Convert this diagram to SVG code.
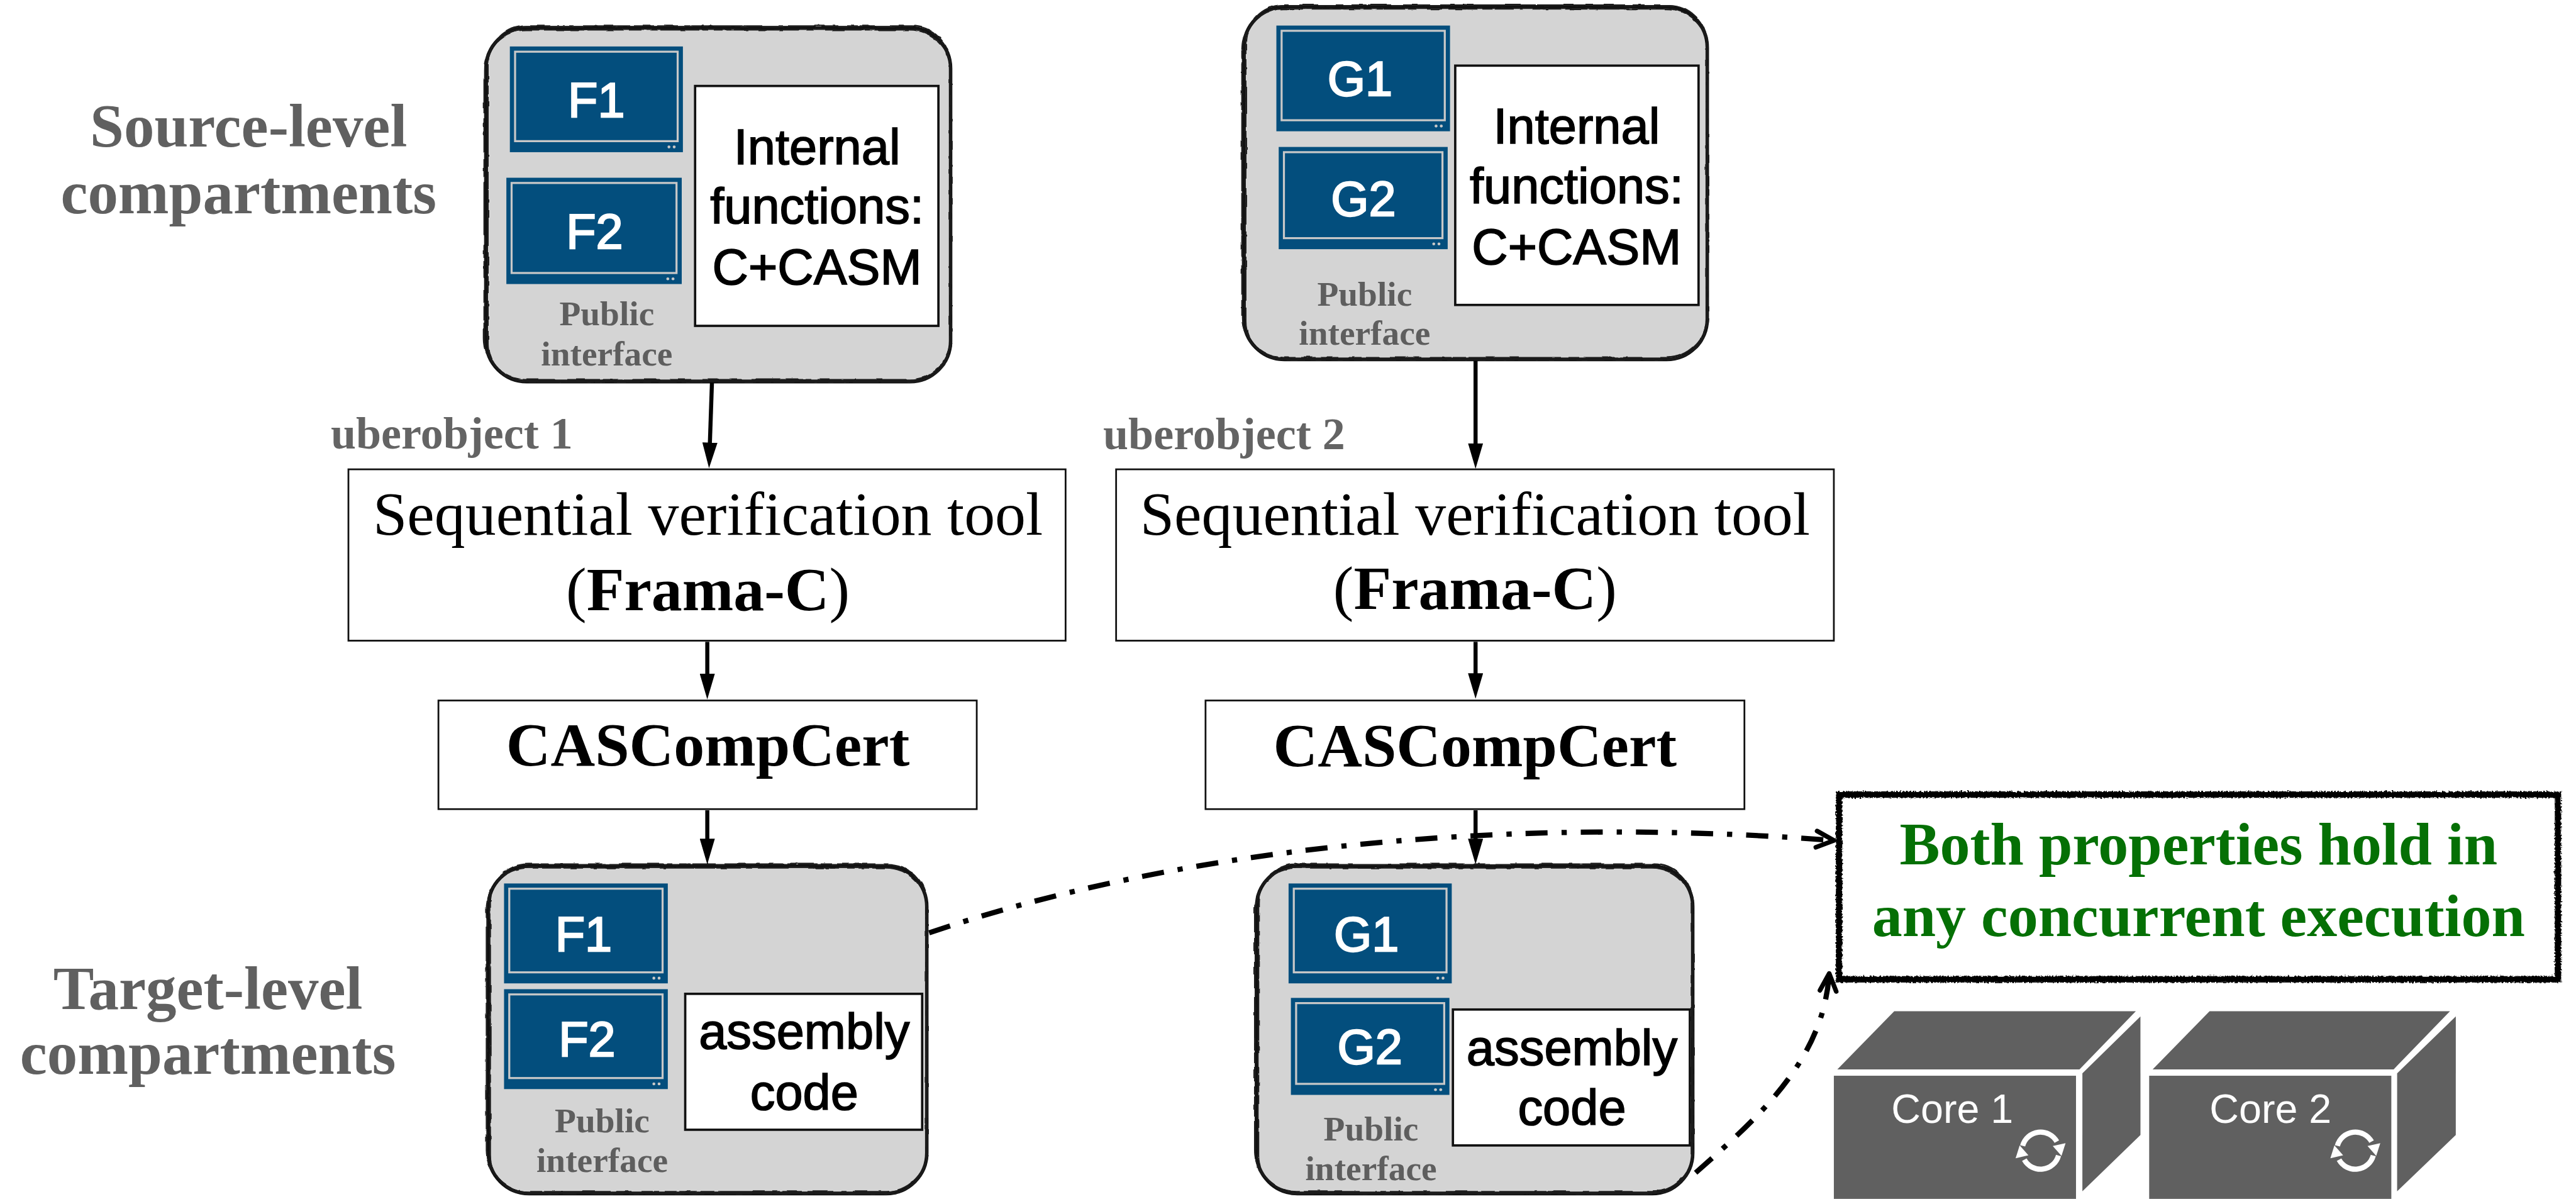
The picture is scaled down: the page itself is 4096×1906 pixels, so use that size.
<svg xmlns="http://www.w3.org/2000/svg" width="4096" height="1906" viewBox="0 0 4096 1906">
<defs>
<style>
.side{font-family:"Liberation Serif","Times New Roman",serif;font-weight:bold;fill:#606060;font-size:105px;text-anchor:middle}
.uber{font-family:"Liberation Serif","Times New Roman",serif;font-weight:bold;fill:#646464;font-size:78px;text-anchor:middle}
.pub{font-family:"Liberation Serif","Times New Roman",serif;font-weight:bold;fill:#5e5e5e;font-size:60px;text-anchor:middle}
.comp{fill:#d4d4d4;stroke:#111;stroke-width:6}
.sk{fill:none;stroke:#1a1a1a;stroke-width:3}
.scr{fill:#034e7d}
.scrin{fill:none;stroke:#c8c8c8;stroke-width:3.5}
.dot{fill:#c8c8c8}
.scrtxt{font-family:"Liberation Sans",Arial,sans-serif;font-size:84px;fill:#fff;stroke:#fff;stroke-width:2.5;text-anchor:middle}
.wbox{fill:#fff;stroke:#111;stroke-width:4}
.btxt{font-family:"Liberation Sans",Arial,sans-serif;font-size:86px;fill:#000;stroke:#000;stroke-width:1.8;text-anchor:middle}
.tool{fill:#fff;stroke:#111;stroke-width:3}
.tooltxt{font-family:"Liberation Serif","Times New Roman",serif;font-size:106px;fill:#000;text-anchor:middle}
.b{font-weight:bold}
.flow{stroke:#000;stroke-width:7;fill:none;marker-end:url(#tri)}
.dd{fill:none;stroke:#000;stroke-width:9;stroke-dasharray:38 24 9 24;marker-end:url(#chev)}
.core{fill:#606060}
.coretxt{font-family:"Liberation Sans",Arial,sans-serif;font-size:70px;fill:#fff;text-anchor:middle}
.goal{font-family:"Liberation Serif","Times New Roman",serif;font-weight:bold;fill:#057005;font-size:104px;text-anchor:middle}
.sync{fill:none;stroke:#fff;stroke-width:9}
</style>
<marker id="tri" markerUnits="userSpaceOnUse" viewBox="0 0 44 26" markerWidth="44" markerHeight="26" refX="14" refY="13" orient="auto">
<path d="M0,0 L44,13 L0,26 Z" fill="#000"/>
</marker>
<marker id="chev" markerUnits="userSpaceOnUse" viewBox="-40 -24 50 48" markerWidth="50" markerHeight="48" refX="0" refY="0" orient="auto">
<path d="M-30,-14 L0,0 L-30,14" fill="none" stroke="#000" stroke-width="8" stroke-linecap="round" stroke-linejoin="round"/>
</marker>
<filter id="rough" x="-5%" y="-5%" width="110%" height="110%">
<feTurbulence type="fractalNoise" baseFrequency="0.05" numOctaves="2" seed="3"/>
<feDisplacementMap in="SourceGraphic" scale="5" xChannelSelector="R" yChannelSelector="G"/>
</filter>
<filter id="grain" x="-5%" y="-10%" width="110%" height="120%">
<feTurbulence type="fractalNoise" baseFrequency="0.35" numOctaves="1" seed="7"/>
<feDisplacementMap in="SourceGraphic" scale="7" xChannelSelector="R" yChannelSelector="G"/>
</filter>
<g id="syncicon">
<path class="sync" d="M30.9,8.3 A32,32 0 0 1 -28,15.5"/>
<path d="M-43,13 L-21,8 L-36,-9 Z" fill="#fff"/>
<path class="sync" d="M-30.9,-8.3 A32,32 0 0 1 28,-15.5"/>
<path d="M43,-13 L21,-8 L36,9 Z" fill="#fff"/>
</g>
</defs>
<rect width="4096" height="1906" fill="#fff"/>
<g transform="scale(0.92335)">

<!-- side labels -->
<g id="labels">
<text class="side"><tspan x="428" y="252">Source-level</tspan><tspan x="428" y="367">compartments</tspan></text>
<text class="side"><tspan x="358" y="1737">Target-level</tspan><tspan x="358" y="1849">compartments</tspan></text>
<text class="uber" x="778" y="772">uberobject 1</text>
<text class="uber" x="2108" y="773">uberobject 2</text>
</g>

<!-- source compartment 1 -->
<g id="src1">
<rect class="comp" x="837" y="48" width="800" height="609" rx="70"/>
<rect class="sk" x="834" y="51" width="804" height="603" rx="72" filter="url(#rough)"/>
<rect class="sk" x="840" y="45" width="796" height="612" rx="66" filter="url(#rough)"/>
<rect class="scr" x="878" y="80" width="298" height="182"/>
<rect class="scrin" x="887" y="89" width="280" height="154"/>
<circle class="dot" cx="1152" cy="253" r="2.5"/><circle class="dot" cx="1161" cy="253" r="2.5"/>
<text class="scrtxt" x="1027" y="201">F1</text>
<rect class="scr" x="872" y="306" width="302" height="183"/>
<rect class="scrin" x="881" y="315" width="284" height="155"/>
<circle class="dot" cx="1150" cy="480" r="2.5"/><circle class="dot" cx="1159" cy="480" r="2.5"/>
<text class="scrtxt" x="1024" y="428">F2</text>
<rect class="wbox" x="1197" y="148" width="419" height="413"/>
<text class="btxt"><tspan x="1407" y="283">Internal</tspan><tspan x="1407" y="385">functions:</tspan><tspan x="1407" y="490">C+CASM</tspan></text>
<text class="pub"><tspan x="1045" y="560">Public</tspan><tspan x="1045" y="629">interface</tspan></text>
</g>

<!-- source compartment 2 -->
<g id="src2">
<rect class="comp" x="2142" y="12" width="798" height="607" rx="70"/>
<rect class="sk" x="2139" y="15" width="802" height="601" rx="72" filter="url(#rough)"/>
<rect class="sk" x="2145" y="9" width="794" height="610" rx="66" filter="url(#rough)"/>
<rect class="scr" x="2198" y="44" width="299" height="182"/>
<rect class="scrin" x="2207" y="53" width="281" height="154"/>
<circle class="dot" cx="2473" cy="217" r="2.5"/><circle class="dot" cx="2482" cy="217" r="2.5"/>
<text class="scrtxt" x="2342" y="165">G1</text>
<rect class="scr" x="2202" y="253" width="291" height="176"/>
<rect class="scrin" x="2211" y="262" width="273" height="148"/>
<circle class="dot" cx="2469" cy="420" r="2.5"/><circle class="dot" cx="2478" cy="420" r="2.5"/>
<text class="scrtxt" x="2348" y="372">G2</text>
<rect class="wbox" x="2506" y="113" width="419" height="412"/>
<text class="btxt"><tspan x="2715" y="247">Internal</tspan><tspan x="2715" y="350">functions:</tspan><tspan x="2715" y="455">C+CASM</tspan></text>
<text class="pub"><tspan x="2350" y="526">Public</tspan><tspan x="2350" y="593">interface</tspan></text>
</g>

<!-- verification tools -->
<g id="seq1">
<rect class="tool" x="600" y="808" width="1235" height="295"/>
<text class="tooltxt"><tspan x="1219" y="921">Sequential verification tool</tspan><tspan x="1219" y="1050">(<tspan class="b">Frama-C</tspan>)</tspan></text>
</g>
<g id="seq2">
<rect class="tool" x="1922" y="808" width="1236" height="295"/>
<text class="tooltxt"><tspan x="2540" y="921">Sequential verification tool</tspan><tspan x="2540" y="1048">(<tspan class="b">Frama-C</tspan>)</tspan></text>
</g>

<!-- compilers -->
<g id="cas1">
<rect class="tool" x="755" y="1206" width="927" height="187"/>
<text class="tooltxt b" x="1219" y="1318">CASCompCert</text>
</g>
<g id="cas2">
<rect class="tool" x="2076" y="1206" width="928" height="187"/>
<text class="tooltxt b" x="2540" y="1319">CASCompCert</text>
</g>

<!-- target compartment 1 -->
<g id="tgt1">
<rect class="comp" x="841" y="1491" width="755" height="564" rx="70"/>
<rect class="sk" x="838" y="1494" width="759" height="558" rx="72" filter="url(#rough)"/>
<rect class="sk" x="844" y="1488" width="751" height="567" rx="66" filter="url(#rough)"/>
<rect class="scr" x="868" y="1521" width="282" height="172"/>
<rect class="scrin" x="877" y="1530" width="264" height="144"/>
<circle class="dot" cx="1126" cy="1684" r="2.5"/><circle class="dot" cx="1135" cy="1684" r="2.5"/>
<text class="scrtxt" x="1005" y="1637">F1</text>
<rect class="scr" x="868" y="1703" width="282" height="172"/>
<rect class="scrin" x="877" y="1712" width="264" height="144"/>
<circle class="dot" cx="1126" cy="1866" r="2.5"/><circle class="dot" cx="1135" cy="1866" r="2.5"/>
<text class="scrtxt" x="1011" y="1818">F2</text>
<rect class="wbox" x="1180" y="1711" width="408" height="234"/>
<text class="btxt"><tspan x="1385" y="1805">assembly</tspan><tspan x="1385" y="1910">code</tspan></text>
<text class="pub"><tspan x="1037" y="1949">Public</tspan><tspan x="1037" y="2018">interface</tspan></text>
</g>

<!-- target compartment 2 -->
<g id="tgt2">
<rect class="comp" x="2164" y="1491" width="751" height="564" rx="70"/>
<rect class="sk" x="2161" y="1494" width="755" height="558" rx="72" filter="url(#rough)"/>
<rect class="sk" x="2167" y="1488" width="747" height="567" rx="66" filter="url(#rough)"/>
<rect class="scr" x="2219" y="1521" width="281" height="172"/>
<rect class="scrin" x="2228" y="1530" width="263" height="144"/>
<circle class="dot" cx="2476" cy="1684" r="2.5"/><circle class="dot" cx="2485" cy="1684" r="2.5"/>
<text class="scrtxt" x="2353" y="1637">G1</text>
<rect class="scr" x="2223" y="1718" width="273" height="167"/>
<rect class="scrin" x="2232" y="1727" width="255" height="139"/>
<circle class="dot" cx="2472" cy="1876" r="2.5"/><circle class="dot" cx="2481" cy="1876" r="2.5"/>
<text class="scrtxt" x="2359" y="1831">G2</text>
<rect class="wbox" x="2502" y="1738" width="408" height="234"/>
<text class="btxt"><tspan x="2707" y="1834">assembly</tspan><tspan x="2707" y="1936">code</tspan></text>
<text class="pub"><tspan x="2361" y="1963">Public</tspan><tspan x="2361" y="2032">interface</tspan></text>
</g>

<!-- conclusion box -->
<g id="goal">
<rect x="3167" y="1368" width="1238" height="318" fill="#fff" stroke="#000" stroke-width="11" filter="url(#grain)"/>
<text class="goal"><tspan x="3786" y="1488">Both properties hold in</tspan><tspan x="3786" y="1612">any concurrent execution</tspan></text>
</g>

<!-- processor cores -->
<g id="core1">
<polygon class="core" points="3164,1841 3581,1841 3678,1741 3262,1741"/>
<polygon class="core" points="3586,1848 3686,1750 3686,1954 3586,2051"/>
<rect class="core" x="3158" y="1852" width="417" height="212"/>
<text class="coretxt" x="3362" y="1933">Core 1</text>
<use href="#syncicon" transform="translate(3514,1981)"/>
</g>
<g id="core2">
<polygon class="core" points="3707,1841 4122,1841 4219,1741 3805,1741"/>
<polygon class="core" points="4128,1848 4229,1750 4229,1954 4128,2051"/>
<rect class="core" x="3701" y="1852" width="417" height="212"/>
<text class="coretxt" x="3910" y="1933">Core 2</text>
<use href="#syncicon" transform="translate(4056,1981)"/>
</g>

<!-- connectors -->
<g id="connectors">
<line class="flow" x1="1226" y1="659" x2="1222" y2="776"/>
<line class="flow" x1="1218" y1="1105" x2="1218" y2="1174"/>
<line class="flow" x1="1218" y1="1395" x2="1218" y2="1458"/>
<line class="flow" x1="2541" y1="621" x2="2541" y2="777"/>
<line class="flow" x1="2541" y1="1105" x2="2541" y2="1173"/>
<line class="flow" x1="2541" y1="1395" x2="2541" y2="1458"/>
<path class="dd" d="M1600,1606 C2000,1470 2550,1400 3158,1447"/>
<path class="dd" d="M2920,2019 C3020,1930 3140,1830 3150,1676"/>
</g>
</g>
</svg>
